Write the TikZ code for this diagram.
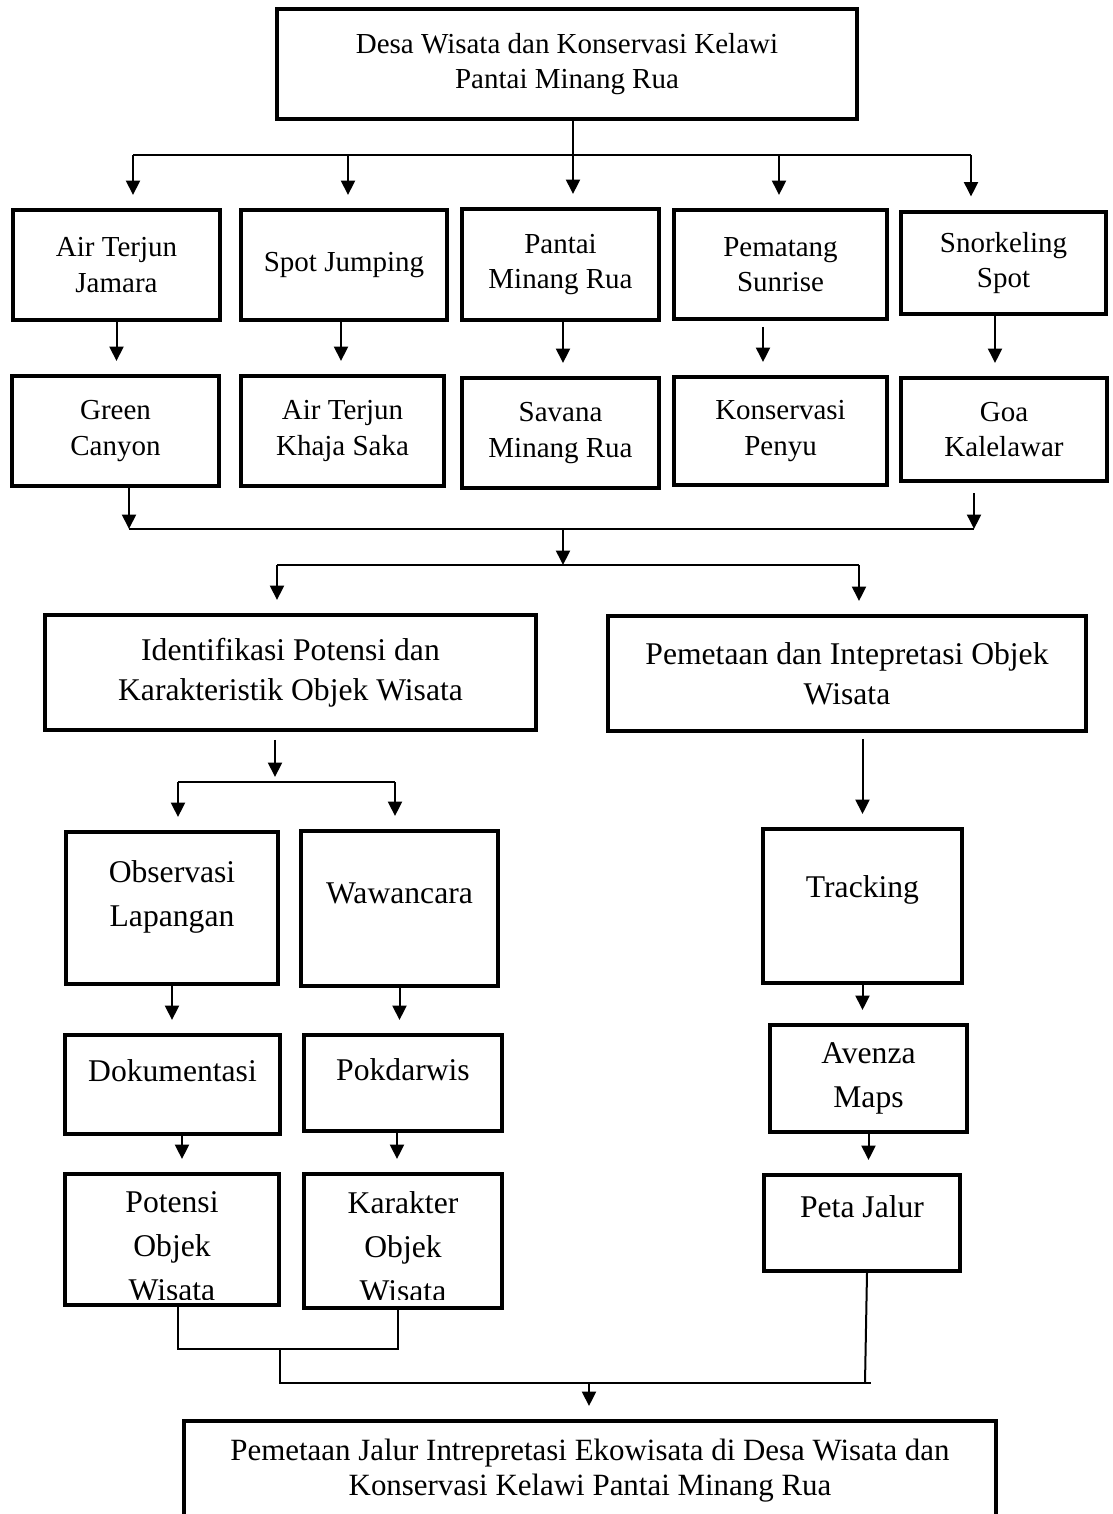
\documentclass[tikz,border=0pt]{standalone}
\usepackage{fontspec}
\setmainfont{Liberation Serif}
\usepackage{tikz}
\usetikzlibrary{arrows.meta,positioning,calc}

\begin{document}
\begin{tikzpicture}[
    x=0.02cm, y=-0.02cm,
    >={Triangle[length=0.29cm,width=0.28cm]},
    link/.style={draw=black,line width=0.04cm},
    flow/.style={->,link,shorten >=0.26cm},
    tip/.style={->,link},
    box/.style={draw=black,line width=0.08cm,inner sep=0pt,align=center},
    upper/.style={align=center,font=\fontsize{16.5}{20}\selectfont},
    lower/.style={align=center,font=\fontsize{18}{23}\selectfont},
    wide/.style={align=center,font=\fontsize{18}{25}\selectfont},
    final/.style={align=center,font=\fontsize{17.6}{19.8}\selectfont}
  ]
    \clip (0,0) rectangle (1112,1514);

    \node[box,upper,minimum width=11.6cm,minimum height=2.2cm] (desa) at (567,64) {Desa Wisata dan Konservasi Kelawi\\Pantai Minang Rua};

    \node[box,upper,minimum width=4.14cm,minimum height=2.2cm] (jamara) at (116.5,265) {Air Terjun\\Jamara};
    \node[box,upper,minimum width=4.12cm,minimum height=2.2cm] (jumping) at (344,265) {Spot Jumping};
    \node[box,upper,minimum width=3.94cm,minimum height=2.22cm] (pantai) at (560.5,264.5) {Pantai\\Minang Rua};
    \node[box,upper,minimum width=4.26cm,minimum height=2.18cm] (pematang) at (780.5,264.5) {Pematang\\Sunrise};
    \node[box,upper,minimum width=4.1cm,minimum height=2.06cm] (snorkel) at (1003.5,263) {Snorkeling\\Spot};

    \node[box,upper,minimum width=4.14cm,minimum height=2.2cm] (canyon) at (115.5,431) {Green\\Canyon};
    \node[box,upper,minimum width=4.06cm,minimum height=2.2cm] (khaja) at (342.5,431) {Air Terjun\\Khaja Saka};
    \node[box,upper,minimum width=3.94cm,minimum height=2.2cm] (savana) at (560.5,433) {Savana\\Minang Rua};
    \node[box,upper,minimum width=4.26cm,minimum height=2.16cm] (penyu) at (780.5,431) {Konservasi\\Penyu};
    \node[box,upper,minimum width=4.12cm,minimum height=2.06cm] (goa) at (1004,429.5) {Goa\\Kalelawar};

    \node[box,lower,minimum width=9.82cm,minimum height=2.3cm] (identifikasi) at (290.5,672.5) {Identifikasi Potensi dan\\Karakteristik Objek Wisata};
    \node[box,lower,minimum width=9.56cm,minimum height=2.3cm] (pemetaan) at (847,673.5) {Pemetaan dan Intepretasi Objek\\Wisata};

    \node[box,minimum width=4.24cm,minimum height=3.04cm] (observasi) at (172,908) {};
    \node[wide] (observasi-t) at (172,897) {Observasi\\Lapangan};
    \node[box,minimum width=3.94cm,minimum height=3.1cm] (wawancara) at (399.5,908.5) {};
    \node[lower] (wawancara-t) at (399.5,893) {Wawancara};
    \node[box,minimum width=3.98cm,minimum height=3.08cm] (tracking) at (862.5,906) {};
    \node[lower] (tracking-t) at (862.5,890) {Tracking};

    \node[box,minimum width=4.3cm,minimum height=1.98cm] (dokumentasi) at (172.5,1084.5) {};
    \node[lower] (dokumentasi-t) at (172.5,1071) {Dokumentasi};
    \node[box,minimum width=3.96cm,minimum height=1.92cm] (pokdarwis) at (403,1083) {};
    \node[lower] (pokdarwis-t) at (403,1070) {Pokdarwis};
    \node[box,wide,minimum width=3.94cm,minimum height=2.14cm] (avenza) at (868.5,1078.5) {Avenza\\Maps};

    \node[box,minimum width=4.28cm,minimum height=2.62cm] (potensi) at (172,1239.5) {};
    \node[box,minimum width=3.96cm,minimum height=2.68cm] (karakter) at (403,1241) {};
    \begin{scope}
      \clip (potensi.north west) rectangle ([yshift=0.21cm]karakter.south east);
      \node[wide] (potensi-t) at (172,1246) {Potensi\\Objek\\Wisata};
      \node[wide] (karakter-t) at (403,1247) {Karakter\\Objek\\Wisata};
    \end{scope}
    \node[box,minimum width=3.92cm,minimum height=1.92cm] (peta) at (862,1223) {};
    \node[lower] (peta-t) at (862,1207) {Peta Jalur};

    \node[box,final,minimum width=16.24cm,minimum height=1.98cm] (ekowisata) at (590,1470.5) {Pemetaan Jalur Intrepretasi Ekowisata di Desa Wisata dan\\Konservasi Kelawi Pantai Minang Rua};

    \coordinate (busA) at (573,155);
    \coordinate (busAl) at (133,155);
    \coordinate (busA2) at (348,155);
    \coordinate (busA4) at (779,155);
    \coordinate (busAr) at (971,155);
    \draw[link] (busAl) -- (busAr);
    \draw[flow] (desa.south -| busA) -- (busA |- pantai.north);
    \draw[flow] (busAl) -- (busAl |- jamara.north);
    \draw[flow] (busA2) -- (busA2 |- jumping.north);
    \draw[flow] (busA4) -- (busA4 |- pematang.north);
    \draw[flow] (busAr) -- (busAr |- snorkel.north);

    \draw[flow] (jamara.south) -- (jamara.south |- canyon.north);
    \draw[flow] ([xshift=-0.06cm]jumping.south) -- ([xshift=-0.06cm]jumping.south |- khaja.north);
    \draw[flow] ([xshift=0.05cm]pantai.south) -- ([xshift=0.05cm]pantai.south |- savana.north);
    \draw[flow,shorten <=0.12cm] ([xshift=-0.35cm]pematang.south) -- ([xshift=-0.35cm]pematang.south |- penyu.north);
    \draw[flow] ([xshift=-0.17cm]snorkel.south) -- ([xshift=-0.17cm]snorkel.south |- goa.north);

    \coordinate (busBl) at (129,529);
    \coordinate (busBm) at (563,529);
    \coordinate (busBr) at (974,529);
    \draw[tip] (canyon.south -| busBl) -- (busBl);
    \draw[tip,shorten <=0.21cm] (goa.south -| busBr) -- (busBr);
    \draw[link] (busBl) -- (busBr);

    \coordinate (busC) at (563,565);
    \coordinate (busCl) at (277,565);
    \coordinate (busCr) at (859,565);
    \draw[tip] (busBm) -- (busC);
    \draw[link] (busCl) -- (busCr);
    \draw[flow] (busCl) -- (busCl |- identifikasi.north);
    \draw[flow] (busCr) -- (busCr |- pemetaan.north);

    \coordinate (busD) at (275,782);
    \coordinate (busDl) at (178,782);
    \coordinate (busDr) at (395,782);
    \draw[tip,shorten <=0.16cm,shorten >=0.1cm] (identifikasi.south -| busD) -- (busD);
    \draw[link] (busDl) -- (busDr);
    \draw[flow] (busDl) -- (busDl |- observasi.north);
    \draw[flow] (busDr) -- (busDr |- wawancara.north);

    \draw[flow,shorten <=0.12cm] (pemetaan.south -| tracking.north) -- (tracking.north);
    \draw[flow] (observasi.south) -- (observasi.south |- dokumentasi.north);
    \draw[flow] (wawancara.south) -- (wawancara.south |- pokdarwis.north);
    \draw[flow] (tracking.south) -- (tracking.south |- avenza.north);
    \draw[flow] ([xshift=0.19cm]dokumentasi.south) -- ([xshift=0.19cm]dokumentasi.south |- potensi.north);
    \draw[flow] ([xshift=-0.12cm]pokdarwis.south) -- ([xshift=-0.12cm]pokdarwis.south |- karakter.north);
    \draw[flow] (avenza.south) -- (avenza.south |- peta.north);

    \coordinate (busEl) at (178,1349);
    \coordinate (busE) at (280,1349);
    \coordinate (busEr) at (398,1349);
    \draw[link] (busEl |- potensi.south) -- (busEl) -- (busEr) -- (busEr |- karakter.south);
    \coordinate (busF) at (280,1383);
    \coordinate (busFm) at (589,1383);
    \coordinate (busFp) at (865,1383);
    \coordinate (busFr) at (871,1383);
    \draw[link] (busE) -- (busF) -- (busFr);
    \draw[link] ([xshift=0.1cm]peta.south) -- (busFp);
    \draw[flow] (busFm) -- (busFm |- ekowisata.north);
\end{tikzpicture}
\end{document}
